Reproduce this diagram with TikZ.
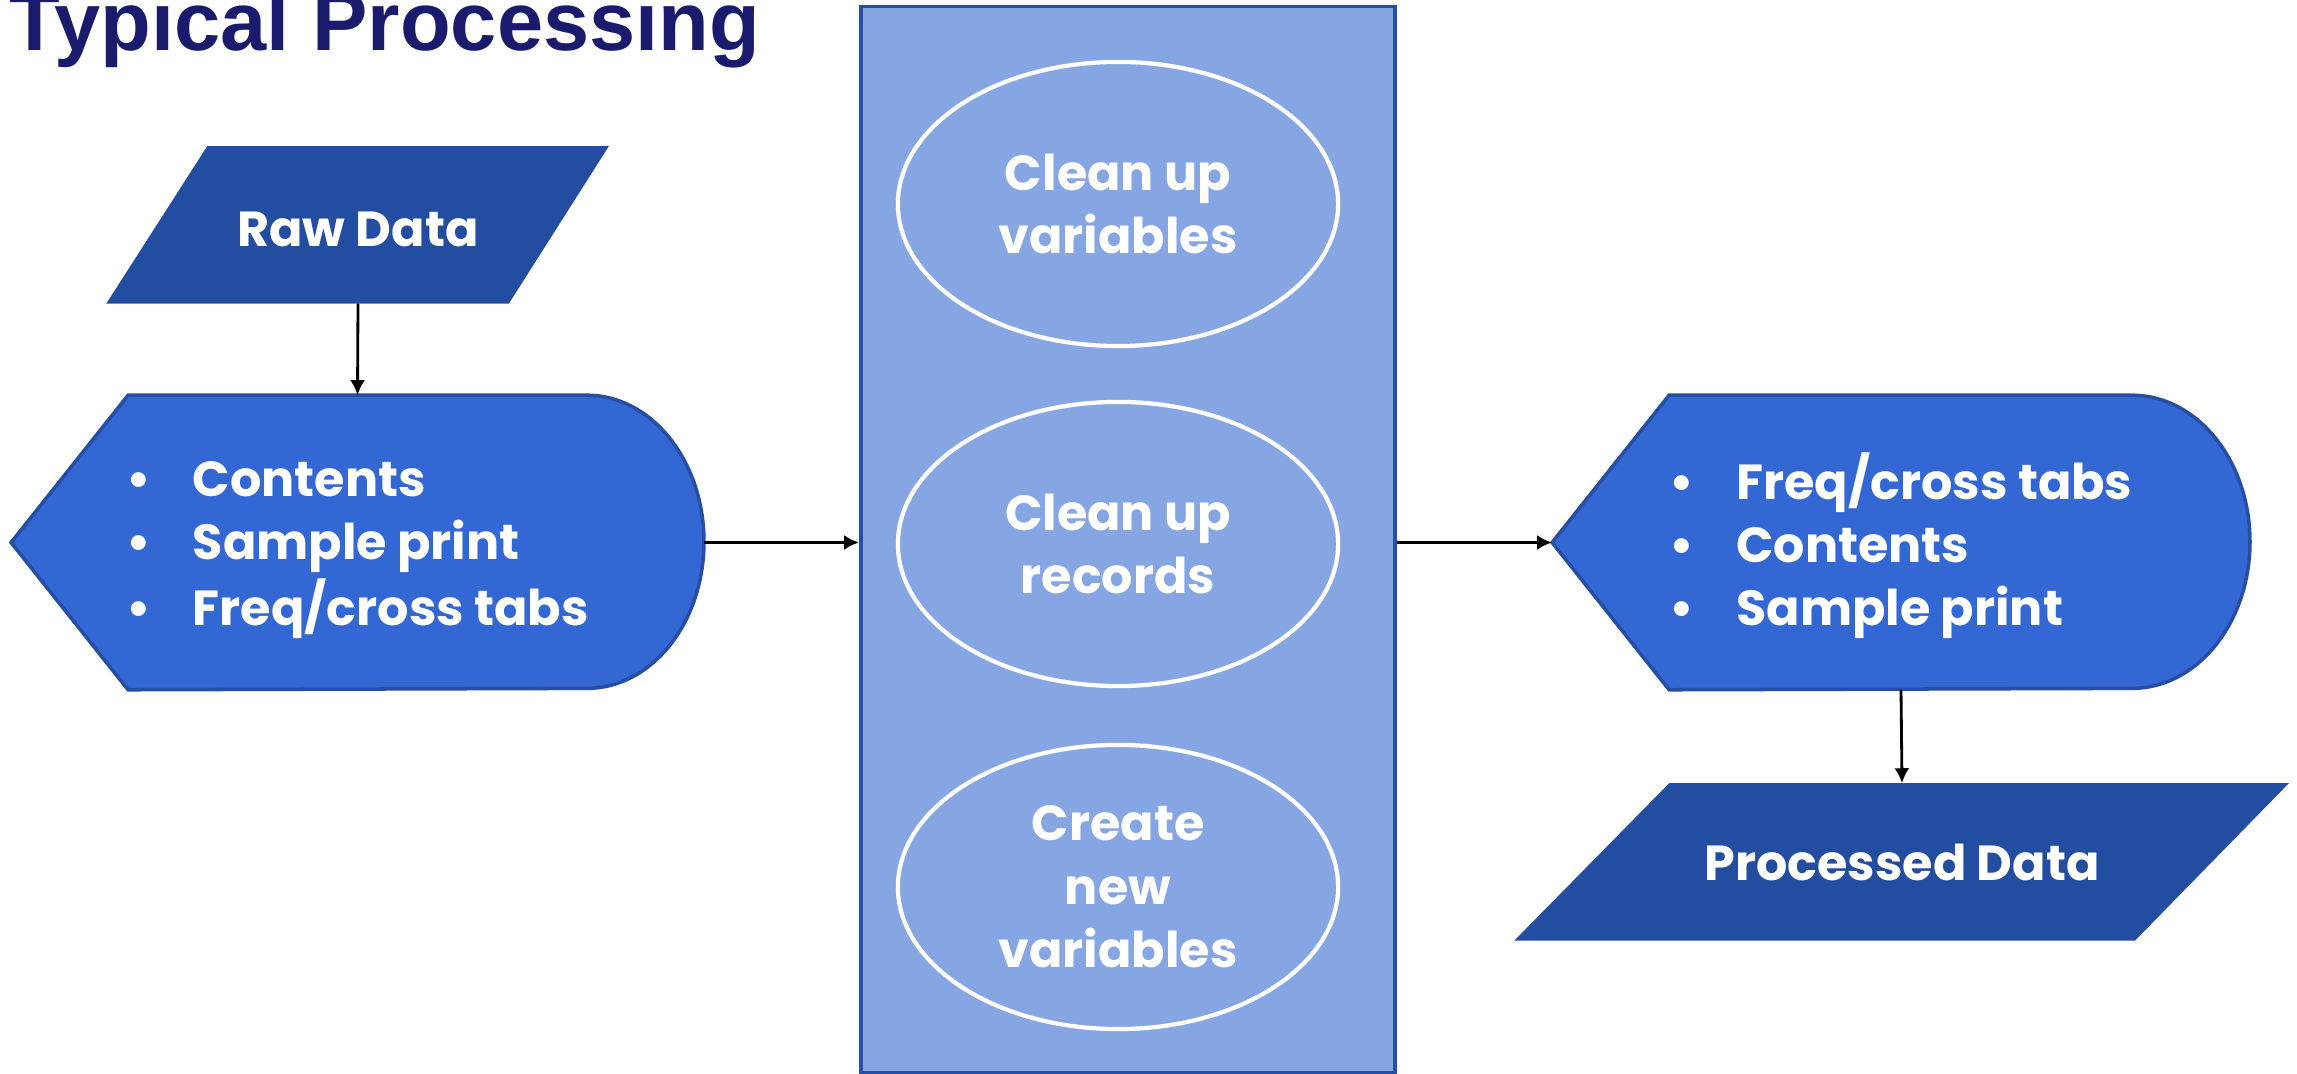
\documentclass[tikz,border=0pt]{standalone}
\usepackage{fontspec}
\setmainfont{Poppins}
\newfontfamily\titlefont{Liberation Sans}
\usetikzlibrary{positioning,shapes.geometric,arrows.meta,calc,backgrounds}

\definecolor{titleblue}{RGB}{27,27,110}
\definecolor{datablue}{RGB}{35,77,160}
\definecolor{listblue}{RGB}{51,103,212}
\definecolor{edgeblue}{RGB}{38,78,165}
\definecolor{paleblue}{RGB}{133,166,227}

\newcommand{\lowered}[2]{\raisebox{-#1}[\height][\depth]{#2}}

\tikzset{
  boxtext/.style = {text = white, font = \bfseries\fontsize{14}{18}\selectfont, align = center},
  datanode/.style = {boxtext, minimum height = 1.56cm, inner sep = 0pt},
  listnode/.style = {boxtext, minimum height = 2.93cm, inner sep = 0pt},
  stepoval/.style = {ellipse, draw = white, line width = 1.2pt, boxtext, minimum width = 4.4cm, minimum height = 2.84cm, inner sep = 0pt},
  flowarrow/.style = {-{Latex[length=1.5mm, width=1.5mm]}, line width = 0.8pt}
}

\begin{document}
\begin{tikzpicture}[x = 0.01cm, y = -0.01cm]
\useasboundingbox (0,0) rectangle (2297,1074);

\node[anchor = base west, inner sep = 0pt, text = titleblue, font = \titlefont\bfseries\fontsize{23.6}{28}\selectfont] (title) at (9,51) {Typical Processing};

% data in and out
\node[datanode, minimum width = 3.0cm] (raw) at (358,225) {\lowered{0.04cm}{Raw Data}};
\node[datanode, minimum width = 4.64cm] (proc) at (1902,862) {Processed Data};

% first and second look
\node[listnode, minimum width = 6.91cm] (inspA) at (357.5,542.5)
  {\lowered{0.06cm}{\begin{tabular}{@{}l@{\hspace{0.42cm}}l@{}} \textbullet & Contents\\ \textbullet & Sample print\\ \textbullet & Freq/cross tabs \end{tabular}}};
\node[listnode, minimum width = 6.96cm] (inspB) at (1901,542.5)
  {\lowered{0.06cm}{\begin{tabular}{@{}l@{\hspace{0.42cm}}l@{}} \textbullet & Freq/cross tabs\\ \textbullet & Contents\\ \textbullet & Sample print \end{tabular}}};

% processing steps
\node[fill = paleblue, draw = edgeblue, line width = 1pt, minimum width = 5.34cm, minimum height = 10.65cm] (prep) at (1128,539.5) {};
\node[stepoval] (vars) at (1118,204) {Clean up\\variables};
\node[stepoval] (recs) at (1118,544) {Clean up\\records};
\node[stepoval] (newv) at (1118,887) {Create\\new\\variables};

\begin{scope}[on background layer]
\fill[datablue] (raw.north west) -- ($(raw.north east)+(100,0)$) -- (raw.south east) -- ($(raw.south west)+(-101,0)$) -- cycle;
\fill[datablue] (proc.north west) -- ($(proc.north east)+(154,0)$) -- (proc.south east) -- ($(proc.south west)+(-155,0)$) -- cycle;
\filldraw[fill = listblue, draw = edgeblue, line width = 1pt] (inspA.west) -- ($(inspA.north west)+(117,0)$) -- ($(inspA.north east)+(-117,0)$)
  arc[start angle = 90, end angle = -90, x radius = 1.17cm, y radius = 1.465cm] -- ($(inspA.south west)+(117,0)$) -- cycle;
\filldraw[fill = listblue, draw = edgeblue, line width = 1pt] (inspB.west) -- ($(inspB.north west)+(117,0)$) -- ($(inspB.north east)+(-118,0)$)
  arc[start angle = 90, end angle = -90, x radius = 1.18cm, y radius = 1.465cm] -- ($(inspB.south west)+(117,0)$) -- cycle;
\end{scope}

\draw[flowarrow] (raw.south) -- (inspA.north);
\draw[flowarrow] (inspA.east) -- (inspA.east -| prep.west);
\draw[flowarrow] (inspB.west -| prep.east) -- (inspB.west);
\draw[flowarrow] (inspB.south) -- (proc.north);
\end{tikzpicture}
\end{document}
